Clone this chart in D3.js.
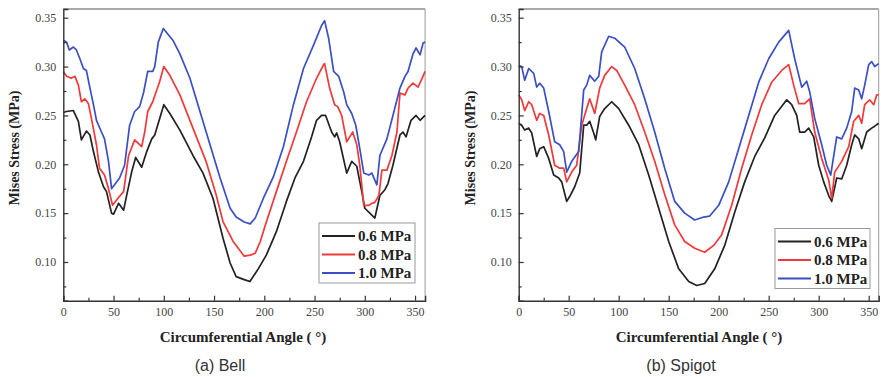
<!DOCTYPE html>
<html>
<head>
<meta charset="utf-8">
<script src="https://cdn.jsdelivr.net/npm/d3@7"></script>
<style>
  body { margin: 0; background: #fff; }
  svg { display: block; }
  .tick text { font-family: 'Liberation Serif', 'Times New Roman', serif; }
</style>
</head>
<body>
<svg id="chart"></svg>
<script>
(function () {
    const width = 881, height = 377;

    // series names + colours
    const seriesNames = ['0.6 MPa', '0.8 MPa', '1.0 MPa'];
    const seriesColors = ['#222222', '#f0393a', '#3b4fc4'];

    const xTicks = [0, 50, 100, 150, 200, 250, 300, 350];
    const yTicks = [0.10, 0.15, 0.20, 0.25, 0.30, 0.35];

    // (a) Bell : [angle, stress]
    const bell06 = [[0,0.253],[3,0.254],[10,0.255],[15,0.244],[18,0.225],[23,0.234],[26.5,0.230],[30,0.213],[35,0.192],[40,0.177],[43,0.172],[48,0.150],[50,0.149],[55,0.160],[60,0.153],[63,0.168],[68,0.192],[72,0.207],[78,0.197],[83,0.213],[88,0.226],[91,0.230],[96,0.247],[100,0.261],[106,0.252],[116,0.235],[129,0.209],[139,0.191],[149,0.165],[159,0.124],[166,0.099],[172,0.085],[180,0.082],[185.7,0.080],[194,0.093],[202,0.107],[212,0.131],[222,0.162],[230.5,0.186],[239,0.203],[247,0.228],[252,0.245],[257,0.250],[261,0.250],[267,0.233],[270,0.228],[272,0.232],[275,0.223],[282,0.191],[287,0.203],[292,0.198],[297,0.172],[300,0.155],[305,0.150],[310,0.145],[315,0.168],[320,0.174],[323,0.180],[328,0.199],[335,0.230],[338,0.233],[341,0.228],[346,0.245],[351,0.250],[355,0.245],[360,0.250]];
    const bell08 = [[0,0.295],[3.3,0.290],[8,0.288],[11.6,0.290],[15,0.281],[18,0.264],[21.5,0.267],[25,0.262],[28,0.247],[33,0.220],[36,0.196],[41,0.189],[45,0.175],[49,0.158],[55,0.166],[60,0.172],[65,0.209],[71,0.225],[78,0.218],[81,0.233],[84,0.254],[89,0.264],[96,0.285],[100,0.300],[106,0.291],[116,0.271],[129,0.237],[142,0.203],[152,0.169],[159,0.141],[169,0.121],[180,0.106],[186,0.107],[191,0.109],[196,0.121],[202,0.141],[212,0.172],[222,0.203],[232,0.233],[242,0.264],[252,0.288],[259,0.302],[260,0.303],[265,0.278],[270,0.261],[273,0.259],[277,0.250],[282,0.223],[285,0.228],[288,0.233],[292,0.220],[295,0.199],[299,0.158],[304,0.158],[307,0.160],[310,0.161],[314,0.168],[317,0.194],[322,0.194],[327,0.209],[332,0.233],[335,0.273],[340,0.271],[343,0.278],[348,0.283],[353,0.279],[357,0.288],[360,0.295]];
    const bell10 = [[0,0.327],[3.3,0.325],[6,0.317],[10,0.320],[13,0.317],[16.5,0.308],[20,0.298],[23,0.296],[26.5,0.278],[30,0.261],[33,0.245],[38,0.233],[41,0.226],[45,0.203],[48,0.175],[51,0.179],[56,0.186],[61,0.199],[66,0.240],[71,0.254],[76,0.259],[80,0.274],[84,0.295],[89,0.295],[91,0.300],[94.5,0.325],[99.5,0.339],[109,0.327],[116,0.313],[126,0.288],[136,0.254],[146,0.220],[156,0.186],[166,0.155],[172,0.146],[180,0.141],[186,0.139],[191,0.145],[199,0.165],[209,0.187],[219,0.218],[229,0.261],[239,0.298],[249,0.322],[257,0.342],[260,0.347],[264,0.329],[269,0.295],[274,0.290],[279,0.274],[282,0.261],[287,0.252],[291,0.240],[295,0.216],[299,0.191],[304,0.189],[307,0.191],[312,0.179],[315,0.209],[322,0.226],[328,0.250],[335,0.278],[340,0.290],[343,0.295],[348,0.313],[351,0.319],[355,0.312],[358,0.324],[360,0.325]];

    // (b) Spigot : [angle, stress]
    const spigot06 = [[0,0.242],[3,0.240],[6,0.235],[10,0.237],[13,0.232],[18,0.208],[21,0.216],[25,0.218],[30,0.206],[35,0.189],[40,0.186],[43,0.182],[48,0.162],[51,0.167],[56,0.177],[61,0.191],[65,0.240],[68,0.240],[71,0.244],[75,0.232],[77,0.225],[81,0.249],[86,0.257],[93,0.264],[100,0.257],[110,0.240],[120,0.220],[130,0.189],[140,0.155],[150,0.121],[160,0.093],[170,0.080],[178,0.076],[186,0.078],[196,0.093],[206,0.117],[216,0.151],[226,0.182],[236,0.208],[246,0.227],[256,0.250],[265,0.262],[268,0.266],[273,0.261],[278,0.250],[281,0.233],[286,0.233],[290,0.237],[295,0.228],[300,0.199],[305,0.182],[310,0.168],[313,0.162],[318,0.186],[323,0.185],[328,0.199],[333,0.220],[336,0.230],[340,0.226],[343,0.216],[348,0.233],[353,0.237],[356,0.239],[360,0.242]];
    const spigot08 = [[0,0.271],[3,0.266],[6,0.255],[10,0.264],[13,0.261],[18,0.245],[21,0.252],[25,0.250],[30,0.230],[36,0.199],[41,0.196],[45,0.196],[48,0.182],[53,0.192],[58,0.199],[63,0.240],[68,0.257],[71,0.267],[76,0.252],[81,0.278],[86,0.291],[93,0.300],[98,0.296],[106,0.281],[116,0.261],[126,0.233],[136,0.203],[146,0.169],[156,0.138],[166,0.121],[176,0.114],[186,0.110],[195,0.117],[203,0.128],[213,0.158],[223,0.196],[233,0.230],[243,0.261],[253,0.284],[263,0.296],[270,0.302],[275,0.281],[280,0.262],[286,0.262],[291,0.267],[296,0.233],[303,0.206],[310,0.184],[313,0.165],[316,0.192],[323,0.203],[330,0.218],[335,0.244],[340,0.250],[343,0.242],[346,0.261],[351,0.266],[355,0.261],[358,0.271],[360,0.271]];
    const spigot10 = [[0,0.301],[3,0.300],[6,0.286],[10,0.298],[15,0.293],[18,0.279],[21,0.283],[25,0.278],[30,0.254],[36,0.223],[41,0.220],[45,0.213],[48,0.192],[53,0.203],[60,0.213],[65,0.276],[68,0.281],[71,0.291],[76,0.285],[80,0.290],[83,0.315],[90,0.331],[96,0.329],[106,0.320],[116,0.298],[126,0.267],[136,0.233],[146,0.196],[156,0.162],[166,0.150],[176,0.143],[185,0.146],[191,0.147],[200,0.158],[210,0.182],[220,0.216],[230,0.250],[240,0.284],[250,0.308],[260,0.325],[270,0.337],[276,0.308],[283,0.279],[288,0.285],[291,0.274],[296,0.247],[303,0.220],[308,0.199],[312,0.189],[318,0.228],[323,0.226],[328,0.237],[333,0.254],[336,0.278],[340,0.276],[343,0.267],[346,0.281],[350,0.302],[353,0.305],[356,0.300],[360,0.303]];

    const svg = d3.select('#chart')
        .attr("width", width)
        .attr("height", height);

    const serif = "'Liberation Serif', 'Times New Roman', serif";

    function drawPanel(cfg) {
        const x = d3.scaleLinear().domain([0, 360]).range([cfg.left, cfg.right]);
        const y = d3.scaleLinear().domain([0.0604, 0.3589]).range([300.7, 9]);
        const g = svg.append("g");

        // frame (top / right)
        g.append("line").attr("x1", cfg.left).attr("x2", cfg.right).attr("y1", 9).attr("y2", 9)
            .attr("stroke", "#555").attr("stroke-width", 1.2);
        g.append("line").attr("x1", cfg.right).attr("x2", cfg.right).attr("y1", 9).attr("y2", 300.7)
            .attr("stroke", "#999").attr("stroke-width", 1);

        // curves
        const line = d3.line().x(d => x(d[0])).y(d => y(d[1]));
        cfg.series.forEach((s, i) => {
            g.append("path")
                .datum(s)
                .attr("d", line)
                .attr("fill", "none")
                .attr("stroke", seriesColors[i])
                .attr("stroke-width", 1.7)
                .attr("stroke-linejoin", "round");
        });

        // x axis, ticks inward
        const xAxis = g.append("g").attr("transform", `translate(0,300.7)`)
            .call(d3.axisBottom(x).tickValues(xTicks).tickSize(-5).tickPadding(7).tickFormat(d3.format("d")));
        g.append("g").attr("transform", `translate(0,300.7)`)
            .call(d3.axisBottom(x).tickValues([25, 75, 125, 175, 225, 275, 325]).tickSize(-3).tickFormat(""))
            .call(a => a.select(".domain").remove());

        const yAxis = g.append("g").attr("transform", `translate(${cfg.left},0)`)
            .call(d3.axisLeft(y).tickValues(yTicks).tickSize(-5).tickPadding(7).tickFormat(d3.format(".2f")));
        g.append("g").attr("transform", `translate(${cfg.left},0)`)
            .call(d3.axisLeft(y).tickValues([0.075, 0.125, 0.175, 0.225, 0.275, 0.325]).tickSize(-3).tickFormat(""))
            .call(a => a.select(".domain").remove());

        [xAxis, yAxis].forEach(a => {
            a.attr("font-family", serif).attr("font-size", 12);
            a.selectAll("text").attr("fill", "#444");
        });
        svg.selectAll(".domain").attr("stroke", "#333").attr("stroke-width", 1.4);
        svg.selectAll(".tick line").attr("stroke", "#333").attr("stroke-width", 1.2);

        // axis titles
        g.append("text")
            .attr("x", cfg.xTitleX).attr("y", 342)
            .attr("text-anchor", "middle")
            .attr("font-family", serif)
            .attr("font-weight", "bold").attr("font-size", 15).attr("fill", "#222")
            .text("Circumferential Angle ( °)");
        g.append("text")
            .attr("transform", `translate(${cfg.yTitleX},148) rotate(-90)`)
            .attr("text-anchor", "middle")
            .attr("dy", "0.35em")
            .attr("font-family", serif)
            .attr("font-weight", "bold").attr("font-size", 14).attr("fill", "#222")
            .text("Mises Stress (MPa)");

        // caption
        g.append("text")
            .attr("x", cfg.captionX).attr("y", 371)
            .attr("text-anchor", "middle")
            .attr("font-family", "'Liberation Sans', Arial, sans-serif")
            .attr("font-size", 16).attr("fill", "#333")
            .text(cfg.caption);

        // legend
        const lg = g.append("g").attr("transform", `translate(${cfg.legend[0]},${cfg.legend[1]})`);
        lg.append("rect").attr("width", cfg.legend[2]).attr("height", 60)
            .attr("fill", "#fff").attr("stroke", "#999").attr("stroke-width", 1);
        seriesNames.forEach((n, i) => {
            const yy = 13 + i * 18.5;
            lg.append("line").attr("x1", 3).attr("x2", 36).attr("y1", yy).attr("y2", yy)
                .attr("stroke", seriesColors[i]).attr("stroke-width", 1.8);
            lg.append("text").attr("x", 39).attr("y", yy).attr("dy", "0.35em")
                .attr("font-family", serif)
                .attr("font-weight", "bold").attr("font-size", 15).attr("fill", "#222")
                .text(n);
        });
    }

    drawPanel({
        left: 63.3, right: 425.1, series: [bell06, bell08, bell10],
        xTitleX: 243, yTitleX: 14.5, captionX: 220, caption: "(a) Bell",
        legend: [319, 223, 96]
    });
    drawPanel({
        left: 518.7, right: 878.7, series: [spigot06, spigot08, spigot10],
        xTitleX: 699, yTitleX: 470, captionX: 681, caption: "(b) Spigot",
        legend: [775, 228.5, 95]
    });
})();
</script>
</body>
</html>
